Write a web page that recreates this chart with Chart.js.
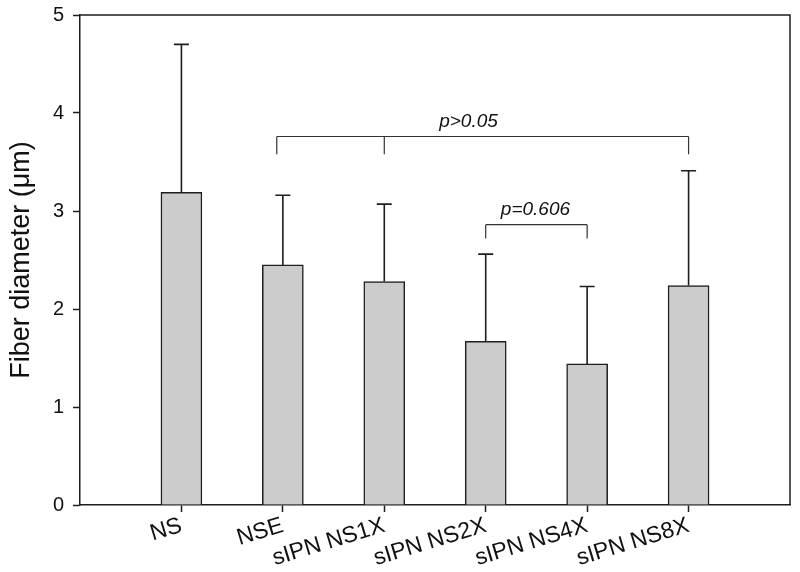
<!DOCTYPE html>
<html>
<head>
<meta charset="utf-8">
<script src="https://cdn.jsdelivr.net/npm/chart.js@4/dist/chart.umd.min.js"></script>
<style>
  html, body { margin: 0; padding: 0; background: #fff; }
  #wrap { width: 800px; height: 572px; position: relative; }
</style>
</head>
<body>
<div id="wrap"><canvas id="c" width="800" height="572"></canvas></div>
<script>
// ---- data ----
const categories = ['NS', 'NSE', 'sIPN NS1X', 'sIPN NS2X', 'sIPN NS4X', 'sIPN NS8X'];
const meanDiameter = [3.19, 2.45, 2.28, 1.67, 1.44, 2.24];
const sdDiameter = [1.51, 0.71, 0.79, 0.89, 0.79, 1.17];
const yTicks = [0, 1, 2, 3, 4, 5];
// significance brackets: leg positions (category slot), bracket level, leg bottom, label
const bracketLegs = [[1.94, 3, 6], [4, 5]];
const bracketLevel = [3.76, 2.86];
const bracketLegBottom = [3.58, 2.72];
const bracketLabels = ['p>0.05', 'p=0.606'];
const bracketLabelPos = [3.83, 4.49];

// library table: slots 0 and 7 are empty padding slots
const slotLabels = [''].concat(categories, ['']);
const slotValues = [null].concat(meanDiameter, [null]);

const ink = '#1e1e1e';
const FAM = "'Liberation Sans', Arial, sans-serif";

const framePlugin = {
  id: 'frame',
  afterDatasetsDraw(chart) {
    const { ctx, chartArea: a, scales } = chart;
    const xs = scales.x, ys = scales.y;
    ctx.save();
    // error bars (upward only)
    ctx.strokeStyle = ink;
    ctx.lineWidth = 1.6;
    meanDiameter.forEach((m, i) => {
      const x = xs.getPixelForValue(i + 1);
      const y0 = ys.getPixelForValue(m);
      const y1 = ys.getPixelForValue(m + sdDiameter[i]);
      ctx.beginPath();
      ctx.moveTo(x, y0); ctx.lineTo(x, y1);
      ctx.moveTo(x - 7.5, y1); ctx.lineTo(x + 7.5, y1);
      ctx.stroke();
    });
    // brackets
    ctx.lineWidth = 1.2;
    ctx.strokeStyle = '#333';
    bracketLegs.forEach((legs, k) => {
      const yb = ys.getPixelForValue(bracketLevel[k]);
      const yl = ys.getPixelForValue(bracketLegBottom[k]);
      const xa = xs.getPixelForValue(legs[0]);
      const xb = xs.getPixelForValue(legs[legs.length - 1]);
      ctx.beginPath();
      ctx.moveTo(xa, yb); ctx.lineTo(xb, yb);
      legs.forEach(l => {
        const xl = xs.getPixelForValue(l);
        ctx.moveTo(xl, yb); ctx.lineTo(xl, yl);
      });
      ctx.stroke();
      ctx.fillStyle = '#111';
      ctx.font = 'italic 19px ' + FAM;
      ctx.textAlign = 'center';
      ctx.textBaseline = 'alphabetic';
      ctx.fillText(bracketLabels[k], xs.getPixelForValue(bracketLabelPos[k]), yb - 10);
    });
    // frame top/right
    ctx.strokeStyle = ink;
    ctx.lineWidth = 1.5;
    ctx.beginPath();
    ctx.moveTo(a.left, a.top); ctx.lineTo(a.right, a.top); ctx.lineTo(a.right, a.bottom);
    ctx.stroke();
    ctx.restore();
  }
};

new Chart(document.getElementById('c'), {
  type: 'bar',
  data: {
    labels: slotLabels,
    datasets: [{
      data: slotValues,
      backgroundColor: '#cccccc',
      borderColor: ink,
      borderWidth: 1.5,
      barThickness: 41
    }]
  },
  options: {
    responsive: false,
    animation: false,
    devicePixelRatio: 1,
    layout: { padding: { left: 0, top: 15, right: 10, bottom: 0 } },
    plugins: { legend: { display: false }, tooltip: { enabled: false } },
    scales: {
      x: {
        type: 'category',
        offset: false,
        afterFit(s) { s.height = 67; s.paddingLeft = 0; s.paddingRight = 0; },
        grid: {
          offset: false,
          drawOnChartArea: false,
          tickLength: 7,
          tickWidth: 1.5,
          color: c => (c.index === 0 || c.index === slotLabels.length - 1) ? 'rgba(0,0,0,0)' : ink
        },
        border: { display: true, color: ink, width: 1.5 },
        ticks: {
          autoSkip: false,
          minRotation: 17,
          maxRotation: 17,
          padding: 0,
          color: '#111',
          font: { family: FAM, size: 23 }
        }
      },
      y: {
        min: 0,
        max: 5,
        afterFit(s) { s.width = 80; s.paddingTop = 0; s.paddingBottom = 0; },
        afterBuildTicks(s) { s.ticks = yTicks.map(v => ({ value: v })); },
        grid: { drawOnChartArea: false, tickLength: 7, tickWidth: 1.5, color: ink },
        border: { display: true, color: ink, width: 1.5 },
        ticks: {
          padding: 9,
          color: '#111',
          font: { family: FAM, size: 20 }
        },
        title: {
          display: true,
          text: 'Fiber diameter (μm)',
          color: '#111',
          padding: { top: 5, bottom: 0 },
          font: { family: FAM, size: 27 }
        }
      }
    }
  },
  plugins: [framePlugin]
});
</script>
</body>
</html>
